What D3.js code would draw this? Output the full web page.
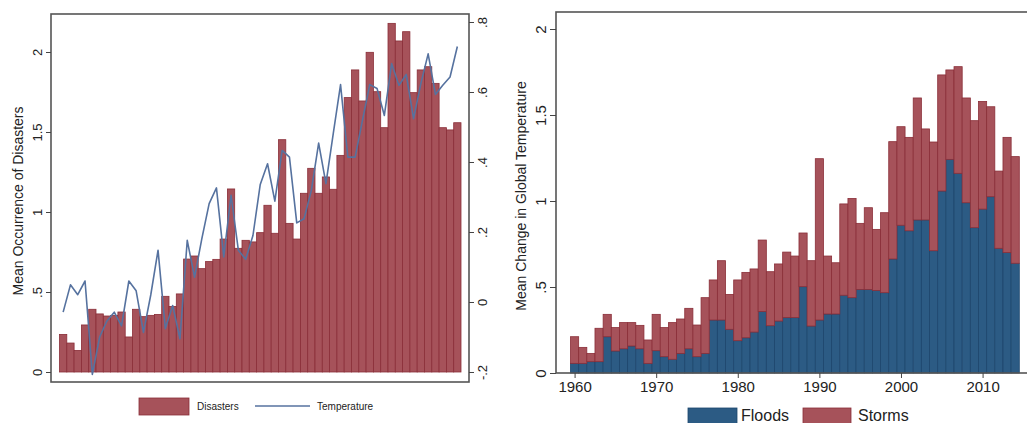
<!DOCTYPE html>
<html>
<head>
<meta charset="utf-8">
<script src="https://cdn.jsdelivr.net/npm/d3@7"></script>
<style>
	body { margin: 0; background: #fff; }
	svg { display: block; font-family: 'Liberation Sans', Arial, sans-serif; }
	.narrow { font-family: 'Liberation Sans Narrow', 'Arial Narrow', 'Liberation Sans', sans-serif; }
</style>
</head>
<body>
<svg width="1027" height="423"></svg>
<script>
'use strict';

// one category per year, 1960 - 2014
var years = d3.range(1960, 2015);

// left panel: mean occurrence of disasters (bars, left axis)
var disasters = [0.235, 0.181, 0.135, 0.294, 0.392, 0.363, 0.35, 0.354, 0.375, 0.219,
	0.392, 0.346, 0.354, 0.36, 0.473, 0.41, 0.488, 0.706, 0.725, 0.646,
	0.69, 0.704, 0.831, 1.144, 0.773, 0.823, 0.813, 0.871, 1.042, 0.867,
	1.452, 0.929, 0.831, 1.117, 1.273, 1.117, 1.219, 1.142, 1.354, 1.715,
	1.888, 1.694, 1.998, 1.752, 1.527, 2.179, 2.069, 2.127, 1.746, 1.888,
	1.908, 1.804, 1.527, 1.513, 1.558];

// left panel: temperature (line, right axis)
var temperature = [-0.029, 0.049, 0.021, 0.06, -0.207, -0.1, -0.054, -0.029, -0.068, 0.06,
	0.032, -0.087, 0.02, 0.148, -0.076, -0.01, -0.105, 0.176, 0.071, 0.181,
	0.281, 0.326, 0.129, 0.305, 0.148, 0.122, 0.19, 0.336, 0.395, 0.288,
	0.433, 0.414, 0.226, 0.238, 0.319, 0.454, 0.338, 0.481, 0.621, 0.414,
	0.414, 0.519, 0.621, 0.61, 0.533, 0.681, 0.619, 0.65, 0.524, 0.624,
	0.709, 0.593, 0.619, 0.643, 0.73];

// right panel: stacked floods + storms
var floods = [0.056, 0.056, 0.066, 0.066, 0.211, 0.128, 0.141, 0.157, 0.141, 0.056,
	0.13, 0.095, 0.08, 0.114, 0.141, 0.095, 0.114, 0.308, 0.308, 0.254,
	0.188, 0.205, 0.238, 0.357, 0.275, 0.302, 0.322, 0.322, 0.502, 0.273,
	0.308, 0.343, 0.343, 0.452, 0.438, 0.486, 0.486, 0.48, 0.467, 0.663,
	0.859, 0.827, 0.89, 0.89, 0.711, 1.058, 1.242, 1.161, 0.99, 0.845,
	0.953, 1.025, 0.725, 0.7, 0.638];
var storms = [0.155, 0.093, 0.048, 0.194, 0.13, 0.136, 0.152, 0.136, 0.136, 0.136,
	0.211, 0.169, 0.213, 0.2, 0.235, 0.184, 0.324, 0.233, 0.345, 0.203,
	0.353, 0.38, 0.367, 0.416, 0.314, 0.332, 0.381, 0.358, 0.312, 0.38,
	0.938, 0.337, 0.298, 0.531, 0.577, 0.384, 0.475, 0.355, 0.465, 0.682,
	0.573, 0.543, 0.709, 0.529, 0.632, 0.675, 0.52, 0.62, 0.609, 0.622,
	0.626, 0.523, 0.449, 0.67, 0.62];

// tick labels
var leftTicks = [0, 0.5, 1, 1.5, 2];
var tempTicks = [-0.2, 0, 0.2, 0.4, 0.6, 0.8];
var rightTicks = [0, 0.5, 1, 1.5, 2];
var yearTicks = [1960, 1970, 1980, 1990, 2000, 2010];

var red = '#a6525a', redEdge = '#8a2e38';
var blue = '#2c5b84', blueEdge = '#1d466d';
var lineBlue = '#56729f';

var svg = d3.select('svg');

// stata style labels: .5 instead of 0.5
var stataFmt = function (d) {
	return String(d).replace(/^(-?)0\./, '$1.');
};

// rotate the tick labels of a vertical axis so they read bottom to top
var rotateLabels = function (g, offset) {
	g.selectAll('.tick text')
		.attr('transform', 'rotate(-90)')
		.attr('x', 0)
		.attr('y', offset)
		.attr('dy', 0)
		.style('text-anchor', 'middle');
};

/**
 * Left panel: disasters and temperature
 */
var xL = d3.scaleBand().domain(years).range([59.5, 461]).padding(0);
var yL = d3.scaleLinear().domain([0, 2]).range([372, 52]);
var yT = d3.scaleLinear().domain([-0.2, 0.8]).range([372, 22]);

var left = svg.append('g').attr('class', 'left-panel');

left.append('g').selectAll('rect')
		.data(disasters)
	.enter()
		.append('rect')
		.attr('x', function (d, i) { return xL(years[i]); })
		.attr('y', function (d) { return yL(d); })
		.attr('width', xL.bandwidth())
		.attr('height', function (d) { return yL(0) - yL(d); })
		.attr('fill', red)
		.attr('stroke', redEdge)
		.attr('stroke-width', 0.8);

var tempLine = d3.line()
	.x(function (d, i) { return xL(years[i]) + xL.bandwidth() / 2; })
	.y(function (d) { return yT(d); });

left.append('path')
	.datum(temperature)
	.attr('d', tempLine)
	.attr('fill', 'none')
	.attr('stroke', lineBlue)
	.attr('stroke-width', 1.6)
	.attr('stroke-linejoin', 'round');

left.append('rect')
	.attr('x', 51).attr('y', 14)
	.attr('width', 418).attr('height', 368)
	.attr('fill', 'none')
	.attr('stroke', '#555')
	.attr('stroke-width', 1.6);

var axL = left.append('g')
	.attr('transform', 'translate(51,0)')
	.call(d3.axisLeft(yL).tickValues(leftTicks).tickSize(5).tickFormat(stataFmt));
axL.call(rotateLabels, -9);

var axT = left.append('g')
	.attr('transform', 'translate(469,0)')
	.call(d3.axisRight(yT).tickValues(tempTicks).tickSize(5).tickFormat(stataFmt));
axT.call(rotateLabels, 18);

left.selectAll('.domain').remove();
left.selectAll('.tick text').attr('font-size', 13).attr('fill', '#222');
left.selectAll('.tick line').attr('stroke', '#444');

left.append('text')
	.attr('transform', 'translate(23,201) rotate(-90)')
	.attr('text-anchor', 'middle')
	.attr('font-size', 14)
	.attr('fill', '#222')
	.text('Mean Occurrence of Disasters');

// left legend
var legL = left.append('g').attr('font-size', 10).attr('fill', '#222');
legL.append('rect')
	.attr('x', 139).attr('y', 398).attr('width', 50).attr('height', 17)
	.attr('fill', red).attr('stroke', redEdge).attr('stroke-width', 0.8);
legL.append('text').attr('x', 197).attr('y', 410).text('Disasters');
legL.append('line')
	.attr('x1', 255).attr('x2', 310).attr('y1', 406).attr('y2', 406)
	.attr('stroke', lineBlue).attr('stroke-width', 1.4);
legL.append('text').attr('x', 317).attr('y', 410).text('Temperature');

/**
 * Right panel: floods and storms stacked
 */
var xR = d3.scaleBand().domain(years).range([570.5, 1019.3]).padding(0);
var yR = d3.scaleLinear().domain([0, 2]).range([373, 29]);
var xYear = d3.scaleLinear()
	.domain([years[0], years[years.length - 1]])
	.range([xR(years[0]) + xR.bandwidth() / 2, xR(years[years.length - 1]) + xR.bandwidth() / 2]);

var rows = years.map(function (y, i) {
	return { year : y, floods : floods[i], storms : storms[i] };
});
var stacked = d3.stack().keys(['floods', 'storms'])(rows);
var fills = { floods : [blue, blueEdge], storms : [red, redEdge] };

var right = svg.append('g').attr('class', 'right-panel');

right.selectAll('g.layer')
		.data(stacked)
	.enter()
		.append('g')
		.attr('class', 'layer')
		.attr('fill', function (d) { return fills[d.key][0]; })
		.attr('stroke', function (d) { return fills[d.key][1]; })
		.attr('stroke-width', 0.8)
	.selectAll('rect')
		.data(function (d) { return d; })
	.enter()
		.append('rect')
		.attr('x', function (d) { return xR(d.data.year); })
		.attr('y', function (d) { return yR(d[1]); })
		.attr('width', xR.bandwidth())
		.attr('height', function (d) { return yR(d[0]) - yR(d[1]); });

right.append('rect')
	.attr('x', 556).attr('y', 12)
	.attr('width', 500).attr('height', 361)
	.attr('fill', 'none')
	.attr('stroke', '#555')
	.attr('stroke-width', 1.6);

var axR = right.append('g')
	.attr('transform', 'translate(556,0)')
	.call(d3.axisLeft(yR).tickValues(rightTicks).tickSize(6).tickFormat(stataFmt));
axR.call(rotateLabels, -10);

var axX = right.append('g')
	.attr('transform', 'translate(0,373)')
	.call(d3.axisBottom(xYear).tickValues(yearTicks).tickSize(5).tickFormat(d3.format('d')));
axX.selectAll('.tick text').attr('y', 8).attr('dy', '0.71em');

right.selectAll('.domain').remove();
right.selectAll('.tick text').attr('class', 'narrow').attr('font-size', 15).attr('fill', '#222');
right.selectAll('.tick line').attr('stroke', '#444');

right.append('text')
	.attr('transform', 'translate(526,196) rotate(-90)')
	.attr('text-anchor', 'middle')
	.attr('font-size', 14)
	.attr('fill', '#222')
	.text('Mean Change in Global Temperature');

// right legend
var legR = right.append('g').attr('class', 'narrow').attr('font-size', 16).attr('fill', '#222');
legR.append('rect')
	.attr('x', 688).attr('y', 408).attr('width', 49).attr('height', 18)
	.attr('fill', blue).attr('stroke', blueEdge).attr('stroke-width', 0.8);
legR.append('text').attr('x', 741).attr('y', 421).text('Floods');
legR.append('rect')
	.attr('x', 803).attr('y', 408).attr('width', 48).attr('height', 18)
	.attr('fill', red).attr('stroke', redEdge).attr('stroke-width', 0.8);
legR.append('text').attr('x', 858).attr('y', 421).text('Storms');
</script>
</body>
</html>
